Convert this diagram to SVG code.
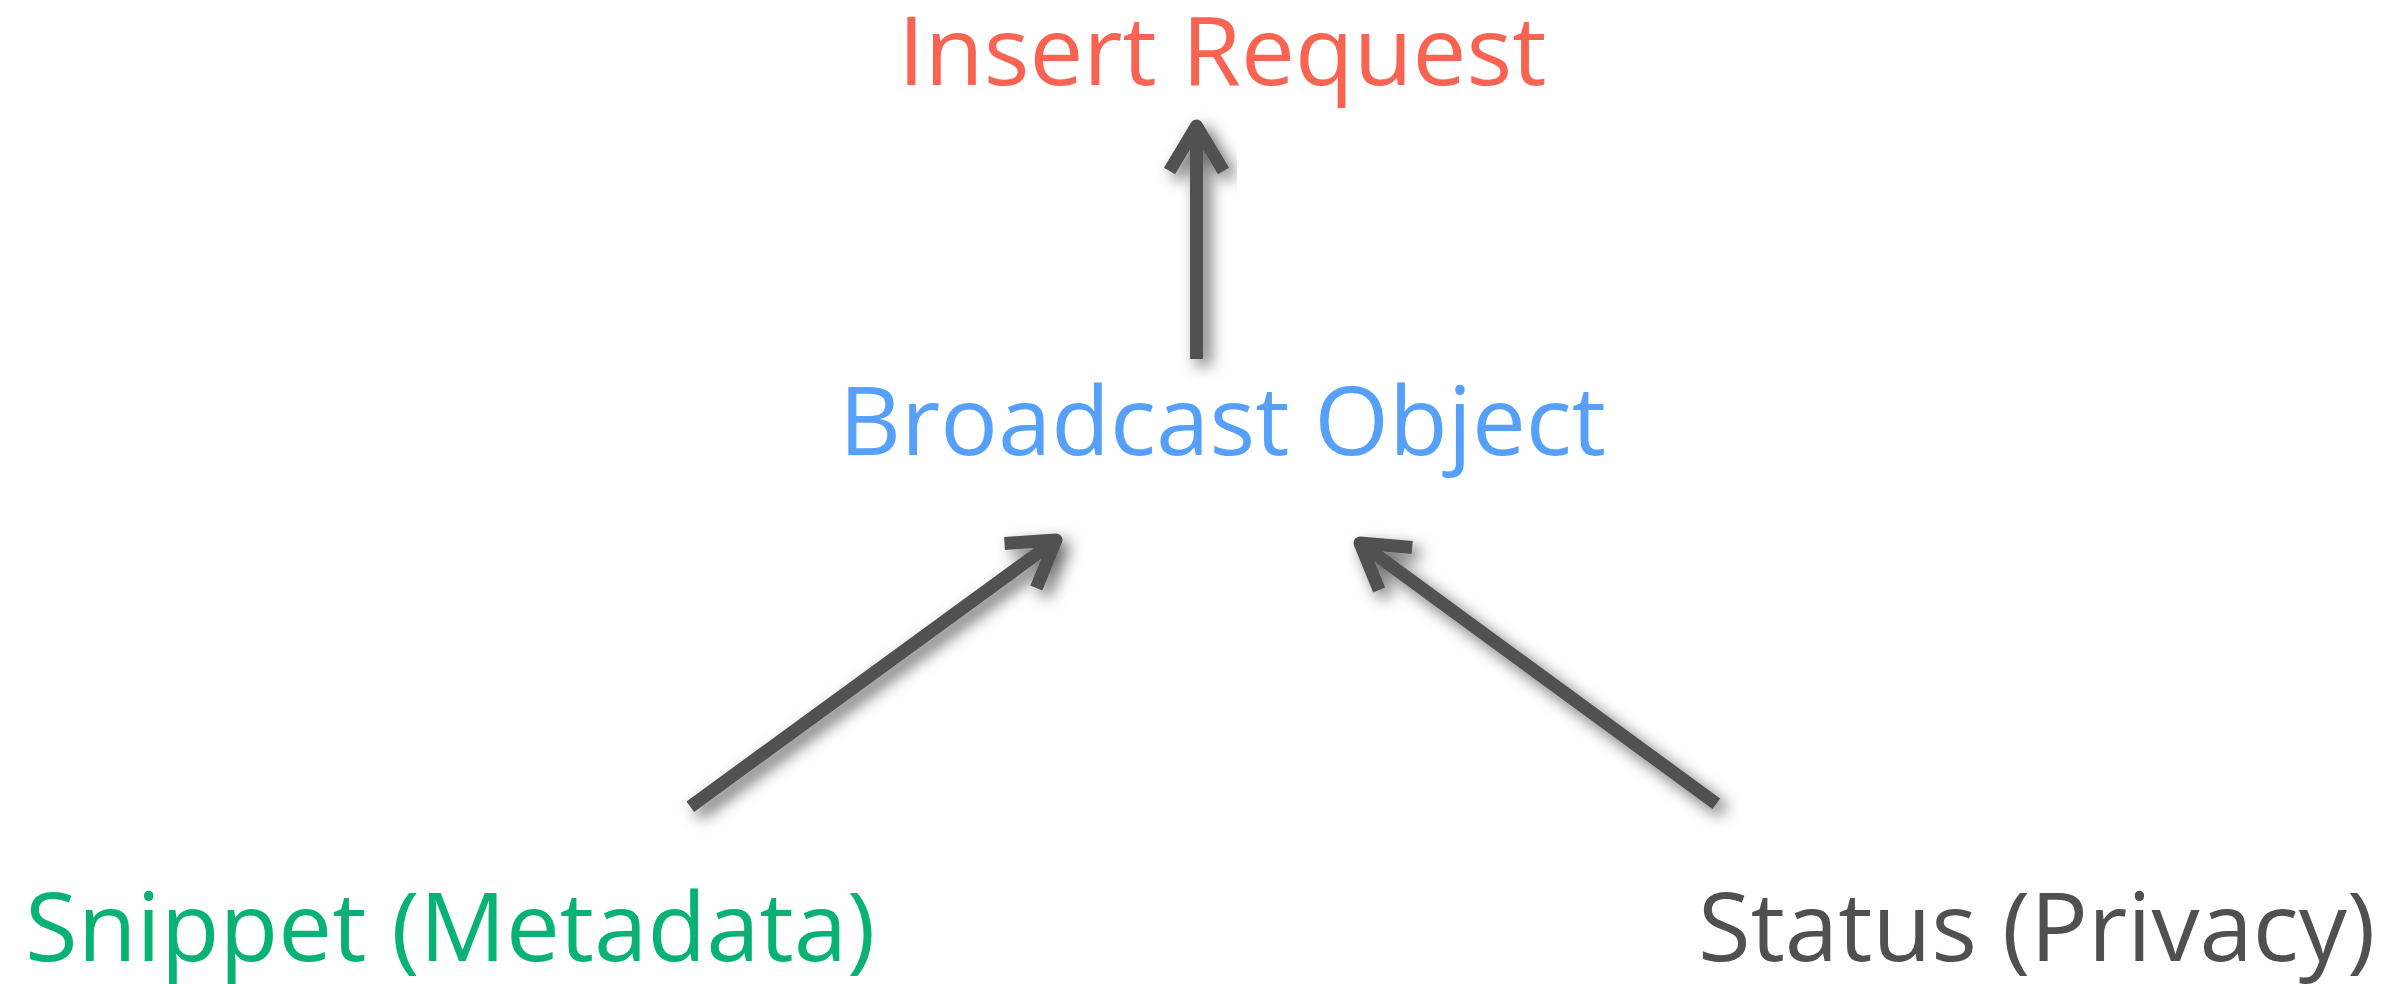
<svg xmlns="http://www.w3.org/2000/svg" width="2390" height="984" viewBox="0 0 2390 984">
<defs>
<filter id="sh" x="-25%" y="-25%" width="150%" height="150%">
<feDropShadow dx="7" dy="7" stdDeviation="8" flood-color="#000" flood-opacity="0.6"/>
</filter>
<style>
text{font-family:"Open Sans","Noto Sans","Liberation Sans",sans-serif;font-size:96px}
.arr{fill:none;stroke:#515151;stroke-width:13;stroke-linejoin:round;stroke-linecap:butt;filter:url(#sh)}
</style>
</defs>
<rect width="2390" height="984" fill="#fff"/>
<g id="connectors">
<path class="arr" d="M1196.5,359 V126 M1169.5,171 L1196.5,126 L1223.5,171"/>
<path class="arr" d="M690.3,806.7 L1056,540 M1004.5,543.5 L1056,540 L1036.3,588"/>
<path class="arr" d="M1716.3,803.8 L1360,543 M1412.2,547.5 L1360,543 L1379.2,590"/>
</g>
<g id="insert-request"><text x="898" y="85" fill="#F96452">Insert Request</text></g>
<g id="broadcast-object"><text x="839" y="455" fill="#56A0FA">Broadcast Object</text></g>
<g id="snippet"><text x="25" y="961" fill="#07B274">Snippet (Metadata)</text></g>
<g id="status"><text x="1698" y="961" fill="#505050">Status (Privacy)</text></g>
</svg>
